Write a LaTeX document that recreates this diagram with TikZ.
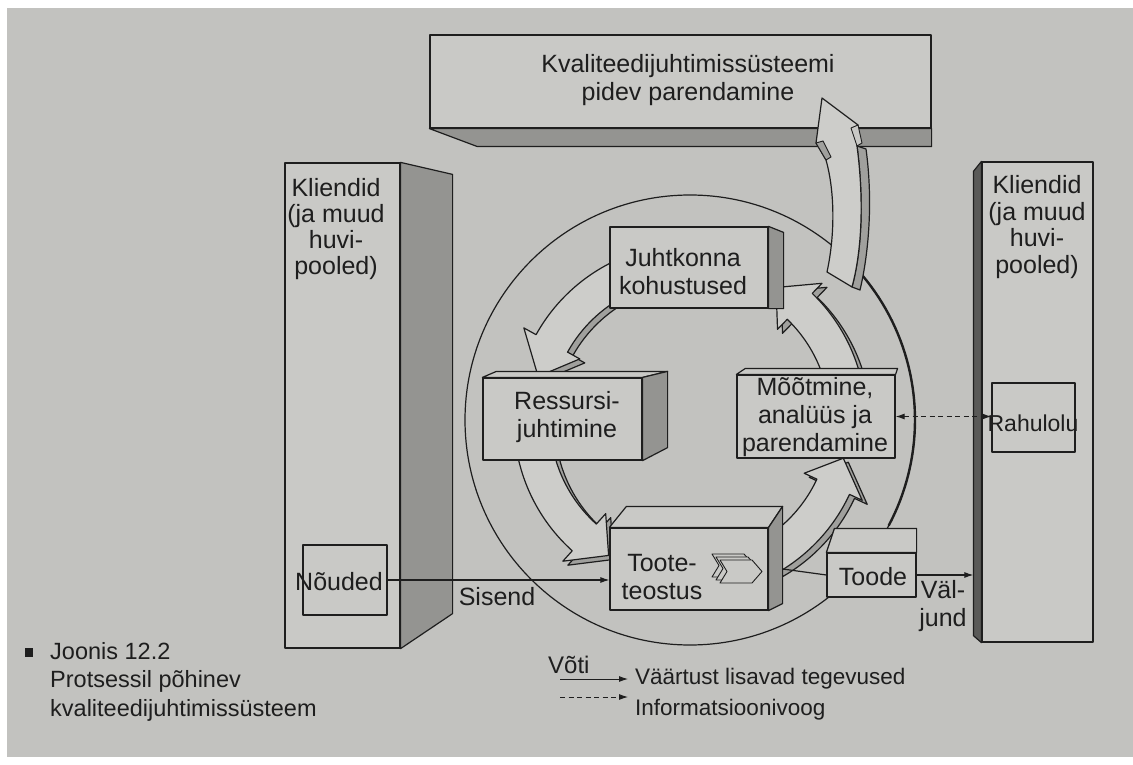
\documentclass[tikz,border=0pt]{standalone}
\usepackage{fontspec}
\setmainfont{Liberation Sans}
\usetikzlibrary{calc,arrows.meta}
\definecolor{page}{RGB}{194,194,191}
\definecolor{face}{RGB}{201,201,198}
\definecolor{shadeA}{RGB}{148,148,145}
\definecolor{shadeB}{RGB}{90,90,88}
\definecolor{arrowfill}{RGB}{205,205,202}
\definecolor{arrowside}{RGB}{160,160,157}
\definecolor{ink}{RGB}{30,30,30}

% curved process arrow on the ring: start angle, head base angle, tip angle
\def\rIn{140}\def\rOut{176}\def\rMid{158}\def\rHin{126}\def\rHout{190}
\newcommand\ringpath[3]{plot[domain=#1:#2,samples=30] (\x:\rOut) -- (#2:\rHout) -- (#3:\rMid) -- (#2:\rHin) -- plot[domain=#2:#1,samples=30] (\x:\rIn) -- cycle}
\newcommand\ringarrow[3]{%
  \begin{scope}[shift={(695,424)}]
    \filldraw[ln,fill=arrowside] \ringpath{#1}{#2}{#3};
  \end{scope}
  \begin{scope}[shift={(690,420)}]
    \filldraw[ln,fill=arrowfill] \ringpath{#1}{#2}{#3};
  \end{scope}}

\begin{document}
\begin{tikzpicture}[x=1pt,y=-1pt,
  ln/.style={draw=ink,line width=1.2pt,line join=round},
  front/.style={ln,fill=face,inner sep=0pt},
  darkface/.style={ln,fill=shadeA},
  txt/.style={text=ink,font=\fontsize{25}{28}\selectfont,align=center,inner sep=0pt},
  small/.style={text=ink,font=\fontsize{22.5}{27}\selectfont,align=left,inner sep=0pt},
  flow/.style={draw=ink,line width=1.1pt,-{Latex[length=9pt,width=6pt]}},
  info/.style={draw=ink,line width=1.1pt,dash pattern=on 5pt off 3.5pt},
  chev/.style={ln,line width=0.9pt,fill=face}]

\useasboundingbox (0,0) rectangle (1133,765);
\fill[white] (0,0) rectangle (1133,765);
\fill[page] (7,8) rectangle (1133,757);

% outer cycle, heavier on the side where the improvement arrow leaves it
\draw[ln] (690,420) circle[radius=225];
\begin{scope}[shift={(690,420)}]
  \draw[ln,line width=2.4pt] plot[domain=-40:28,samples=40] (\x:225);
\end{scope}

% process cycle arrows
\ringarrow{-112}{-151}{-164}
\ringarrow{170}{132}{121}
\ringarrow{60}{25}{14}
\ringarrow{-14}{-46}{-57}

% management responsibility
\node[front,minimum width=158,minimum height=81] (juht) at (689,267.5) {};
\filldraw[darkface] (juht.north east) -- ++(15,6) -- ($(juht.south east)+(15,0)$) -- (juht.south east) -- cycle;
\node[txt] at (683,272) {Juhtkonna\\kohustused};

% resource management
\node[front,minimum width=159,minimum height=82] (ress) at (562.5,419) {};
\filldraw[ln,fill=face] (ress.north west) -- ++(14,-6) -- ($(ress.north east)+(25,-6)$) -- (ress.north east) -- cycle;
\filldraw[darkface] (ress.north east) -- ++(25,-6) -- ($(ress.south east)+(25,-13)$) -- (ress.south east) -- cycle;
\node[txt] at (567,417) {Ressursi-\\juhtimine};

% measurement, analysis and improvement
\node[front,minimum width=158,minimum height=83] (moot) at (816,416.5) {};
\filldraw[ln,fill=face] (moot.north west) -- ++(9,-6) -- ($(moot.north east)+(2,-6)$) -- (moot.north east) -- cycle;
\node[txt] at (815,417) {Mõõtmine,\\analüüs ja\\parendamine};

% product realisation
\node[front,minimum width=158,minimum height=82] (toote) at (689,569) {};
\filldraw[ln,fill=face] (toote.north west) -- ++(17,-21) -- ($(toote.north east)+(14,-21)$) -- (toote.north east) -- cycle;
\filldraw[darkface] (toote.north east) -- ++(14,-21) -- ($(toote.south east)+(14,-7)$) -- (toote.south east) -- cycle;
\node[txt] at (662,577) {Toote-\\teostus};
\foreach \dx/\dy in {-8/-6,-4/-3,0/0}{
  \filldraw[chev] ($(720,560)+(\dx,\dy)$) -- ++(32,0) -- ++(10,11.5) -- ++(-10,11.5) -- ++(-32,0) -- ++(7,-11.5) -- cycle;
}

% product
\node[front,minimum width=89,minimum height=44] (toode) at (871.5,575) {};
\filldraw[ln,fill=face] (toode.north west) -- ++(8,-24) -- ($(toode.north east)+(0,-24)$) -- (toode.north east) -- cycle;
\node[txt] at (873,577) {Toode};

% continual improvement of the quality management system
\node[front,minimum width=501,minimum height=93] (cont) at (680.5,81.5) {};
\filldraw[darkface] (cont.south west) -- ++(48,18) -- ($(cont.south east)+(0,18)$) -- (cont.south east) -- cycle;
\node[txt] at (688,80) {Kvaliteedijuhtimissüsteemi\\pidev parendamine};

% rising improvement arrow
\filldraw[ln,fill=arrowside] (857,146) -- (866,149) .. controls (873,200) and (869,252) .. (860,290) -- (852,287) .. controls (862,250) and (864,200) .. (857,146) -- cycle;
\filldraw[ln,fill=arrowfill] (827,272) .. controls (835,235) and (835,192) .. (826,160) -- (816,143) -- (822,98) -- (858,125) -- (857,146) .. controls (864,200) and (862,250) .. (852,287) -- cycle;
\filldraw[ln,fill=arrowside,line width=0.9pt] (816,143) -- (823,141) -- (831,157) -- (826,160) -- cycle;
\filldraw[ln,fill=face,line width=0.9pt] (851,128) -- (858,125) -- (862,143) -- (857,146) -- cycle;

% customers, input side
\node[front,minimum width=115,minimum height=485] (kl) at (342.5,405.5) {};
\filldraw[darkface] (kl.north east) -- ++(52,12) -- ($(kl.south east)+(52,-35)$) -- (kl.south east) -- cycle;
\node[txt,font=\fontsize{25}{26.2}\selectfont] at (336,229) {Kliendid\\(ja muud\\huvi-\\pooled)};
\node[front,minimum width=84,minimum height=70] (noud) at (345,580) {};
\node[txt] at (339,582) {Nõuded};

% customers, output side
\node[front,minimum width=111,minimum height=480] (kr) at (1037.5,402) {};
\filldraw[ln,fill=shadeB] (kr.north west) -- ++(-8,10) -- ($(kr.south west)+(-8,-7)$) -- (kr.south west) -- cycle;
\coordinate (krside) at ($(kr.west)+(-8,0)$);
\node[txt,font=\fontsize{25}{26.5}\selectfont] at (1037,227) {Kliendid\\(ja muud\\huvi-\\pooled)};
\node[front,minimum width=83,minimum height=69] (rahul) at (1033.5,417.5) {};
\node[txt,font=\fontsize{23}{26}\selectfont] at (1033,423) {Rahulolu};

% connectors
\draw[flow] (noud.east) -- (noud.east -| toote.west);
\node[txt] at (497,597) {Sisend};
\draw[ln] ($(toote.east)+(14,0)$ |- toode.west) -- (toode.west);
\draw[flow] (toode.east) -- (toode.east -| krside);
\node[txt] at (943,606) {Väl-\\jund};
\draw[info,{Latex[length=9pt,width=6pt]}-{Latex[length=9pt,width=6pt]}] (moot.east) -- (moot.east -| rahul.west);

% key
\node[txt,anchor=west,font=\fontsize{24}{28}\selectfont] (key) at (548,665) {Võti};
\coordinate (k1a) at (560,679);
\coordinate (k1b) at (628,679);
\coordinate (k2a) at (560,697);
\coordinate (k2b) at (628,697);
\draw[flow,line width=0.9pt] (k1a) -- (k1b);
\draw[info,line width=0.9pt,-{Latex[length=9pt,width=6pt]}] (k2a) -- (k2b);
\node[small,anchor=west] at (635,679) {Väärtust lisavad tegevused};
\node[small,anchor=west] at (635,710) {Informatsioonivoog};

% caption
\fill[ink] (25,648) rectangle (33,657);
\node[small,anchor=west,font=\fontsize{23.5}{28.5}\selectfont] at (50,681.5) {Joonis 12.2\\Protsessil põhinev\\kvaliteedijuhtimissüsteem};
\end{tikzpicture}
\end{document}
